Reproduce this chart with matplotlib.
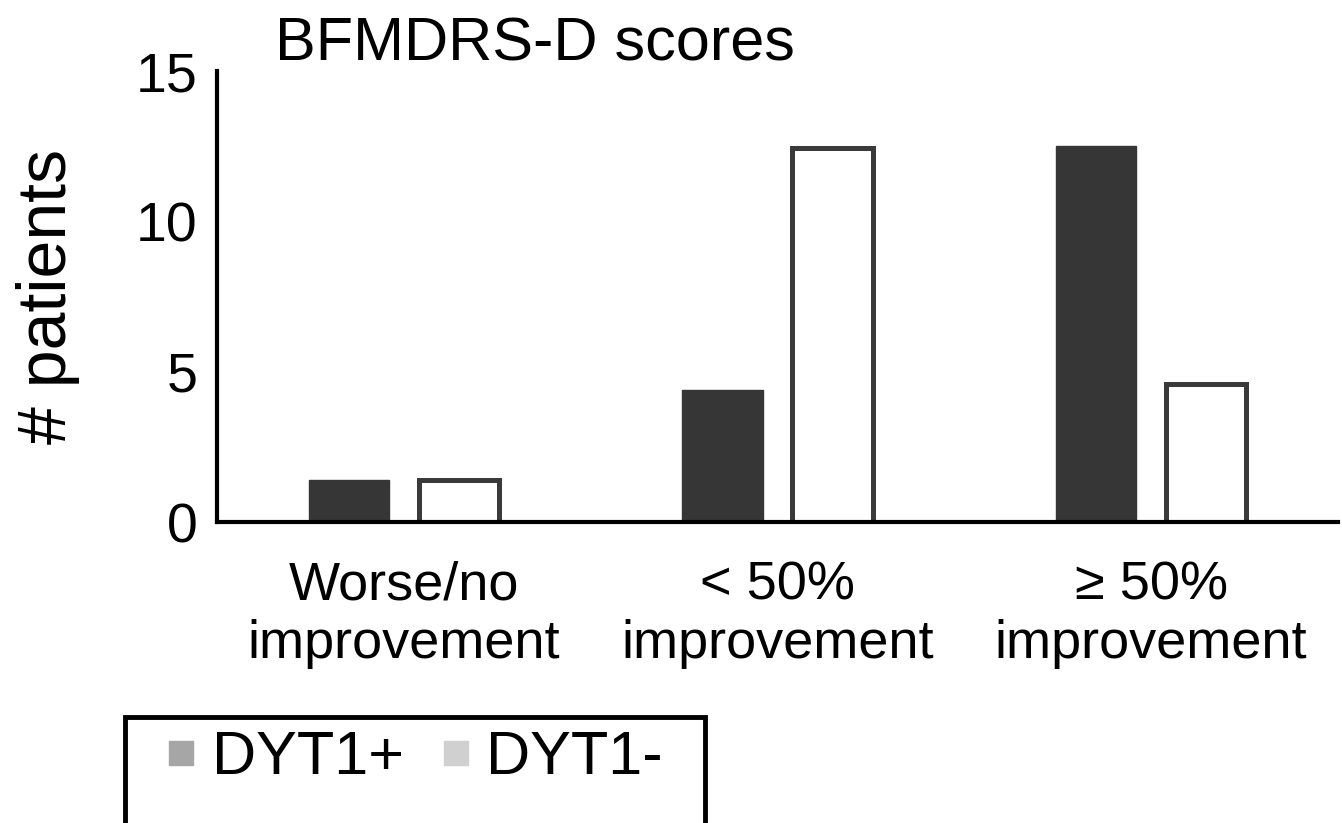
import matplotlib
matplotlib.use('Agg')
import matplotlib.pyplot as plt
from matplotlib.lines import Line2D
from matplotlib.patches import Rectangle
import numpy as np

plt.rcParams['font.family'] = ['Liberation Sans', 'DejaVu Sans']

categories = ['Worse/no\nimprovement', '< 50%\nimprovement', '\u2265 50%\nimprovement']
dyt1_pos = [1.4, 4.4, 12.5]
dyt1_neg = [1.4, 12.45, 4.6]
series_names = ['DYT1+', 'DYT1-']

W, H = 1342, 823
fig = plt.figure(figsize=(W / 100, H / 100), dpi=100)
ax = fig.add_axes([0.1617, 0.3657, 0.8353, 0.548])

x = np.arange(len(categories))
w = 0.215
ax.bar(x - 0.147, dyt1_pos, w, color='#363636', edgecolor='#363636', linewidth=1)
ax.bar(x + 0.147, dyt1_neg, w, color='white', edgecolor='#3a3a3a', linewidth=3.6)

ax.set_xlim(-0.5, 2.5)
ax.set_ylim(0, 15)
ax.set_yticks([0, 5, 10, 15])
ax.set_xticks(x)
ax.set_xticklabels(categories, fontsize=39, linespacing=1.2)
ax.tick_params(axis='y', labelsize=40, length=0, pad=14)
ax.tick_params(axis='x', length=0, pad=28)

for side in ['top', 'right']:
    ax.spines[side].set_visible(False)
for side in ['left', 'bottom']:
    ax.spines[side].set_linewidth(3)
    ax.spines[side].set_color('black')

ax.set_ylabel('# patients', fontsize=49, labelpad=40)
fig.text(275 / W, 1 - 45 / H, 'BFMDRS-D scores', fontsize=44, ha='left', va='center')

# legend box runs off the bottom of the picture
fig.patches.append(Rectangle((125 / W, -0.05), 580 / W, 0.05 + (H - 717) / H,
                             transform=fig.transFigure, fill=False,
                             edgecolor='black', linewidth=3.5))

handles = [
    Line2D([], [], marker='s', linestyle='none', markersize=17, color='#a6a6a6'),
    Line2D([], [], marker='s', linestyle='none', markersize=17, color='#d0d0d0'),
]
fig.legend(handles, series_names, loc='center left', bbox_to_anchor=(166 / W, 1 - 759 / H),
           ncol=2, fontsize=44, frameon=False,
           handlelength=0.5, handletextpad=0.25, columnspacing=0.6,
           borderpad=0, borderaxespad=0)

fig.savefig('out.png', dpi=100)
